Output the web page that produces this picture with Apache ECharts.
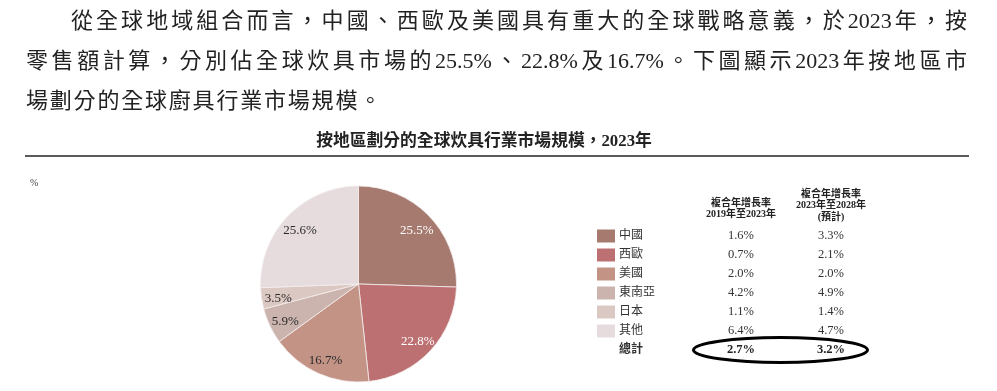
<!DOCTYPE html>
<html>
<head>
<meta charset="utf-8">
<script src="https://cdn.jsdelivr.net/npm/echarts@6/dist/echarts.min.js"></script>
<style>
  html, body { margin: 0; padding: 0; background: #fff; }
  #wrap { position: relative; width: 997px; height: 391px; overflow: hidden; }
  #chart { position: absolute; left: 0; top: 0; width: 997px; height: 391px; }
  #para { position: absolute; left: 26px; top: 1px; width: 941px; font-family: "Liberation Serif", "Noto Sans CJK TC", serif; font-size: 22px; line-height: 40px; color: #222; }
  #para div { white-space: nowrap; }
  #para .j { text-align: justify; text-align-last: justify; }
  #para .l1 { padding-left: 45px; }
  #para .l3 { letter-spacing: 1.8px; }
</style>
</head>
<body>
<div id="wrap">
  <div id="chart"></div>
  <div id="para">
    <div class="j l1">從全球地域組合而言，中國、西歐及美國具有重大的全球戰略意義，於2023年，按</div>
    <div class="j">零售額計算，分別佔全球炊具市場的25.5%、22.8%及16.7%。下圖顯示2023年按地區市</div>
    <div class="l3">場劃分的全球廚具行業市場規模。</div>
  </div>
</div>
<script>
const titleText = '按地區劃分的全球炊具行業市場規模，2023年';
const unitText = '%';
const regions = ['中國', '西歐', '美國', '東南亞', '日本', '其他'];
const shares = [25.5, 22.8, 16.7, 5.9, 3.5, 25.6];
const cagr2019to2023 = ['1.6%', '0.7%', '2.0%', '4.2%', '1.1%', '6.4%'];
const cagr2023to2028 = ['3.3%', '2.1%', '2.0%', '4.9%', '1.4%', '4.7%'];
const totalLabel = '總計';
const totalValues = ['2.7%', '3.2%'];
const header1 = ['複合年增長率', '2019年至2023年'];
const header2 = ['複合年增長率', '2023年至2028年', '(預計)'];

const colors = ['#a77a70', '#bd7072', '#c39386', '#cbb4ae', '#dcc8c3', '#e6dcde'];
const labelColors = ['#ffffff', '#ffffff', '#2a2a2a', '#2a2a2a', '#2a2a2a', '#2a2a2a'];
const serif = '"Liberation Serif", "Noto Sans CJK TC", serif';

const chart = echarts.init(document.getElementById('chart'));

const pieData = regions.map((r, i) => ({
  name: r, value: shares[i], itemStyle: { color: colors[i] }
}));
const labelData = regions.map((r, i) => ({
  name: r, value: shares[i],
  label: { color: labelColors[i] }
}));

const graphics = [];
graphics.push({ type: 'text', x: 484, y: 142, style: { text: titleText, font: 'bold 16.8px ' + serif, fill: '#222', align: 'center', verticalAlign: 'middle' } });
graphics.push({ type: 'line', shape: { x1: 25, y1: 156, x2: 969, y2: 156 }, style: { stroke: '#5a5a5a', lineWidth: 2 } });
graphics.push({ type: 'text', x: 30, y: 183, style: { text: unitText, font: '10px ' + serif, fill: '#444', align: 'left', verticalAlign: 'middle' } });
const col1X = 741, col2X = 831;
header1.forEach((t, i) => {
  graphics.push({ type: 'text', x: col1X, y: 203 + i * 11, style: { text: t, font: 'bold 10px ' + serif, fill: '#222', align: 'center', verticalAlign: 'middle' } });
});
header2.forEach((t, i) => {
  graphics.push({ type: 'text', x: col2X, y: 194 + i * 11.5, style: { text: t, font: 'bold 10px ' + serif, fill: '#222', align: 'center', verticalAlign: 'middle' } });
});
const rowY0 = 236, rowStep = 19;
regions.forEach((r, i) => {
  const y = rowY0 + i * rowStep;
  graphics.push({ type: 'rect', shape: { x: 597, y: y - 6.5, width: 18, height: 13 }, style: { fill: colors[i] } });
  graphics.push({ type: 'text', x: 619, y: y, style: { text: r, font: '12px ' + serif, fill: '#333', align: 'left', verticalAlign: 'middle' } });
  graphics.push({ type: 'text', x: col1X, y: y, style: { text: cagr2019to2023[i], font: '12.5px ' + serif, fill: '#333', align: 'center', verticalAlign: 'middle' } });
  graphics.push({ type: 'text', x: col2X, y: y, style: { text: cagr2023to2028[i], font: '12.5px ' + serif, fill: '#333', align: 'center', verticalAlign: 'middle' } });
});
const totY = rowY0 + 6 * rowStep;
graphics.push({ type: 'text', x: 619, y: totY, style: { text: totalLabel, font: 'bold 12px ' + serif, fill: '#333', align: 'left', verticalAlign: 'middle' } });
graphics.push({ type: 'text', x: col1X, y: totY, style: { text: totalValues[0], font: 'bold 12.5px ' + serif, fill: '#222', align: 'center', verticalAlign: 'middle' } });
graphics.push({ type: 'text', x: col2X, y: totY, style: { text: totalValues[1], font: 'bold 12.5px ' + serif, fill: '#222', align: 'center', verticalAlign: 'middle' } });
graphics.push({ type: 'ellipse', shape: { cx: 780.5, cy: 350, rx: 87, ry: 12.5 }, style: { fill: 'none', stroke: '#000', lineWidth: 3 } });

chart.setOption({
  animation: false,
  graphic: graphics,
  series: [
    {
      type: 'pie',
      center: [358.5, 284],
      radius: [0, 98],
      startAngle: 90,
      clockwise: true,
      label: { show: false },
      labelLine: { show: false },
      itemStyle: { borderColor: '#f4eeee', borderWidth: 0.8 },
      emphasis: { disabled: true },
      data: pieData
    },
    {
      type: 'pie',
      center: [358.5, 287],
      radius: [58, 98],
      startAngle: 90,
      clockwise: true,
      silent: true,
      itemStyle: { color: 'rgba(0,0,0,0)' },
      label: {
        show: true, position: 'inside',
        formatter: p => p.value.toFixed(1) + '%',
        fontFamily: '"Liberation Serif", serif', fontSize: 13
      },
      labelLine: { show: false },
      emphasis: { disabled: true },
      data: labelData
    }
  ]
});
</script>
</body>
</html>
